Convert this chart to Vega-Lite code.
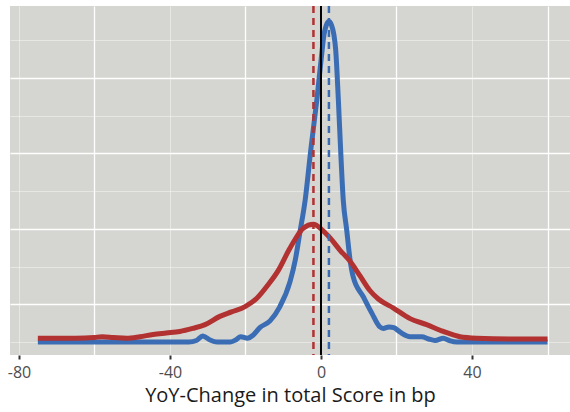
{
  "$schema": "https://vega.github.io/schema/vega-lite/v6.json",
  "width": 560,
  "height": 349,
  "autosize": "none",
  "padding": {"left": 10, "top": 6, "right": 0, "bottom": 57},
  "background": "white",
  "config": {
    "view": {"fill": "#d5d5d1", "stroke": null},
    "font": "Open Sans"
  },
  "datasets": {
    "curves": [
      {"x": -75, "density": 0, "group": "B"},
      {"x": -45, "density": 0, "group": "B"},
      {"x": -35, "density": 0, "group": "B"},
      {"x": -33, "density": 0.0002, "group": "B"},
      {"x": -31.3, "density": 0.0008, "group": "B"},
      {"x": -29.5, "density": 0.0003, "group": "B"},
      {"x": -27.5, "density": 0, "group": "B"},
      {"x": -24, "density": 0, "group": "B"},
      {"x": -22.5, "density": 0.0003, "group": "B"},
      {"x": -21.3, "density": 0.0007, "group": "B"},
      {"x": -19.5, "density": 0.0005, "group": "B"},
      {"x": -18, "density": 0.0009, "group": "B"},
      {"x": -16.2, "density": 0.0019, "group": "B"},
      {"x": -13.5, "density": 0.0028, "group": "B"},
      {"x": -11, "density": 0.0046, "group": "B"},
      {"x": -8.2, "density": 0.008, "group": "B"},
      {"x": -6.8, "density": 0.0109, "group": "B"},
      {"x": -5.6, "density": 0.0145, "group": "B"},
      {"x": -4.2, "density": 0.0188, "group": "B"},
      {"x": -2.7, "density": 0.0255, "group": "B"},
      {"x": -1.1, "density": 0.0321, "group": "B"},
      {"x": 0.3, "density": 0.0387, "group": "B"},
      {"x": 0.8, "density": 0.0408, "group": "B"},
      {"x": 1.4, "density": 0.042, "group": "B"},
      {"x": 2.1, "density": 0.0425, "group": "B"},
      {"x": 2.8, "density": 0.042, "group": "B"},
      {"x": 3.4, "density": 0.0408, "group": "B"},
      {"x": 3.9, "density": 0.0387, "group": "B"},
      {"x": 4.6, "density": 0.0321, "group": "B"},
      {"x": 5.2, "density": 0.0255, "group": "B"},
      {"x": 5.9, "density": 0.0188, "group": "B"},
      {"x": 6.8, "density": 0.0149, "group": "B"},
      {"x": 7.7, "density": 0.0109, "group": "B"},
      {"x": 8.5, "density": 0.0087, "group": "B"},
      {"x": 11.2, "density": 0.006, "group": "B"},
      {"x": 13.5, "density": 0.0038, "group": "B"},
      {"x": 15.6, "density": 0.002, "group": "B"},
      {"x": 16.5, "density": 0.0018, "group": "B"},
      {"x": 18, "density": 0.002, "group": "B"},
      {"x": 19.3, "density": 0.0019, "group": "B"},
      {"x": 21, "density": 0.0013, "group": "B"},
      {"x": 23.6, "density": 0.0007, "group": "B"},
      {"x": 25, "density": 0.0007, "group": "B"},
      {"x": 26.7, "density": 0.0007, "group": "B"},
      {"x": 28.5, "density": 0.0004, "group": "B"},
      {"x": 30.2, "density": 0.0002, "group": "B"},
      {"x": 32.4, "density": 0.0005, "group": "B"},
      {"x": 34, "density": 0.0002, "group": "B"},
      {"x": 36, "density": 0, "group": "B"},
      {"x": 45, "density": 0, "group": "B"},
      {"x": 60, "density": 0, "group": "B"},
      {"x": -75, "density": 0.0005, "group": "A"},
      {"x": -65, "density": 0.0005, "group": "A"},
      {"x": -60, "density": 0.0006, "group": "A"},
      {"x": -58, "density": 0.0007, "group": "A"},
      {"x": -55, "density": 0.0006, "group": "A"},
      {"x": -51.5, "density": 0.0005, "group": "A"},
      {"x": -48, "density": 0.0007, "group": "A"},
      {"x": -44.5, "density": 0.001, "group": "A"},
      {"x": -41, "density": 0.0012, "group": "A"},
      {"x": -37.4, "density": 0.0014, "group": "A"},
      {"x": -34, "density": 0.0018, "group": "A"},
      {"x": -30.7, "density": 0.0023, "group": "A"},
      {"x": -26.8, "density": 0.0034, "group": "A"},
      {"x": -23.7, "density": 0.004, "group": "A"},
      {"x": -20.1, "density": 0.0047, "group": "A"},
      {"x": -17, "density": 0.0058, "group": "A"},
      {"x": -14, "density": 0.0076, "group": "A"},
      {"x": -11.3, "density": 0.0095, "group": "A"},
      {"x": -8.5, "density": 0.0122, "group": "A"},
      {"x": -7, "density": 0.0135, "group": "A"},
      {"x": -4.7, "density": 0.0151, "group": "A"},
      {"x": -2, "density": 0.0156, "group": "A"},
      {"x": 0.2, "density": 0.0149, "group": "A"},
      {"x": 2.4, "density": 0.0138, "group": "A"},
      {"x": 5, "density": 0.0122, "group": "A"},
      {"x": 7.7, "density": 0.0107, "group": "A"},
      {"x": 10.3, "density": 0.0088, "group": "A"},
      {"x": 13, "density": 0.0068, "group": "A"},
      {"x": 15.2, "density": 0.0057, "group": "A"},
      {"x": 19.2, "density": 0.0045, "group": "A"},
      {"x": 23.6, "density": 0.0031, "group": "A"},
      {"x": 28, "density": 0.0023, "group": "A"},
      {"x": 32.4, "density": 0.0014, "group": "A"},
      {"x": 36.8, "density": 0.0007, "group": "A"},
      {"x": 41.2, "density": 0.0005, "group": "A"},
      {"x": 50, "density": 0.0004, "group": "A"},
      {"x": 60, "density": 0.0004, "group": "A"}
    ],
    "means": [
      {"group": "A", "mean": -2},
      {"group": "B", "mean": 2.1}
    ]
  },
  "layer": [
    {
      "data": {"name": "curves"},
      "mark": {"type": "line", "strokeWidth": 5, "interpolate": "monotone", "strokeCap": "butt"},
      "encoding": {
        "x": {
          "field": "x", "type": "quantitative",
          "scale": {"domain": [-82.38, 65.96], "nice": false, "zero": false},
          "axis": {
            "title": "YoY-Change in total Score in bp",
            "values": [-80, -60, -40, -20, 0, 20, 40, 60],
            "labelExpr": "datum.value % 40 === 0 ? toString(datum.value) : ''",
            "labelFontSize": 16,
            "labelColor": "#4d4d4d",
            "labelPadding": 5,
            "labelOverlap": false,
            "titleFontSize": 20,
            "titleFontWeight": "normal",
            "titleColor": "#1a1a1a",
            "titlePadding": 5,
            "domain": false,
            "tickSize": 4,
            "tickWidth": 2,
            "tickColor": "#333333",
            "tickOpacity": {"condition": {"test": "datum.value % 40 === 0", "value": 1}, "value": 0},
            "grid": true,
            "gridColor": "#ffffff",
            "gridOpacity": {"condition": {"test": "datum.value % 40 === 0", "value": 0.4}, "value": 1},
            "gridWidth": {"condition": {"test": "datum.value % 40 === 0", "value": 1}, "value": 1.3}
          }
        },
        "y": {
          "field": "density", "type": "quantitative",
          "scale": {"domain": [-0.001724, 0.04456], "nice": false, "zero": false},
          "axis": {
            "title": null,
            "values": [0, 0.005, 0.01, 0.015, 0.02, 0.025, 0.03, 0.035, 0.04],
            "labels": false,
            "ticks": false,
            "domain": false,
            "grid": true,
            "gridColor": "#ffffff",
            "gridOpacity": {"condition": {"test": "round(datum.value * 200) % 2 === 0", "value": 0.4}, "value": 1},
            "gridWidth": {"condition": {"test": "round(datum.value * 200) % 2 === 0", "value": 1}, "value": 1.3}
          }
        },
        "color": {
          "field": "group", "type": "nominal",
          "scale": {"domain": ["A", "B"], "range": ["#b23131", "#3b6db4"]},
          "legend": null
        }
      }
    },
    {
      "data": {"name": "means"},
      "mark": {"type": "rule", "strokeWidth": 2.5, "strokeDash": [7, 5]},
      "encoding": {
        "x": {"field": "mean", "type": "quantitative"},
        "color": {"field": "group", "type": "nominal", "legend": null}
      }
    },
    {
      "data": {"values": [{"ref": 0}]},
      "mark": {"type": "rule", "strokeWidth": 2, "color": "#000000"},
      "encoding": {
        "x": {"field": "ref", "type": "quantitative"}
      }
    }
  ]
}
